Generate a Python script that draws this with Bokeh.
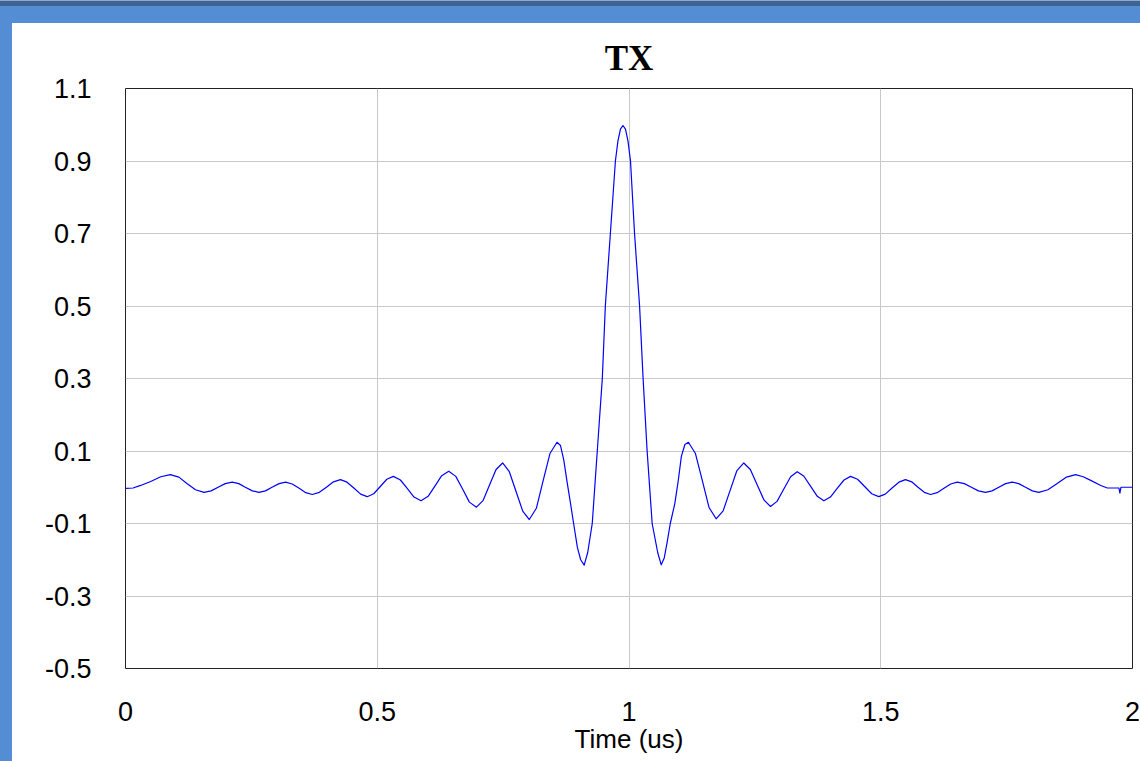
from bokeh.plotting import figure
from bokeh.models import Div, FixedTicker, Range1d, ColumnDataSource
from bokeh.layouts import column, row
from bokeh.embed import file_html
from bokeh.resources import INLINE

# ---- data ----
title_text = "TX"
x_label = "Time (us)"
x_ticks = [0, 0.5, 1, 1.5, 2]
x_tick_labels = ["0", "0.5", "1", "1.5", "2"]
y_ticks = [-0.5, -0.3, -0.1, 0.1, 0.3, 0.5, 0.7, 0.9, 1.1]
y_tick_labels = ["-0.5", "-0.3", "-0.1", "0.1", "0.3", "0.5", "0.7", "0.9", "1.1"]

left_t = [0.000, 0.015, 0.030, 0.050, 0.070, 0.089, 0.106, 0.122, 0.139, 0.156,
          0.170, 0.184, 0.198, 0.212, 0.225, 0.238, 0.252, 0.265, 0.278, 0.291,
          0.305, 0.318, 0.331, 0.345, 0.358, 0.371, 0.385, 0.399, 0.413, 0.427,
          0.440, 0.4535, 0.467, 0.480, 0.493, 0.506, 0.519, 0.532, 0.546, 0.5595,
          0.573, 0.587, 0.601, 0.6145, 0.628, 0.642, 0.656, 0.6695, 0.683, 0.697,
          0.710, 0.723, 0.736, 0.749, 0.762, 0.7755, 0.789, 0.802, 0.816, 0.8295,
          0.843]
left_v = [-0.003, -0.002, 0.005, 0.016, 0.029, 0.035, 0.028, 0.0105, -0.007, -0.014,
          -0.010, 0.000, 0.010, 0.014, 0.010, 0.000, -0.010, -0.014, -0.010, 0.000,
          0.010, 0.014, 0.009, -0.003, -0.015, -0.020, -0.014, 0.000, 0.015, 0.021,
          0.014, -0.002, -0.019, -0.026, -0.018, 0.002, 0.022, 0.030, 0.020, -0.003,
          -0.027, -0.037, -0.025, 0.003, 0.032, 0.044, 0.030, -0.005, -0.041, -0.055,
          -0.037, 0.006, 0.049, 0.067, 0.044, -0.011, -0.066, -0.089, -0.058, 0.018,
          0.093]

main_t = [0.857, 0.864, 0.8705, 0.877, 0.884, 0.890, 0.8975, 0.904, 0.911, 0.918,
          0.927, 0.932, 0.937, 0.942, 0.947, 0.953, 0.958, 0.963, 0.968, 0.973,
          0.978, 0.983, 0.988, 0.993, 0.998, 1.003, 1.007, 1.011, 1.016, 1.021,
          1.028, 1.032, 1.036, 1.041, 1.046, 1.057, 1.064, 1.070, 1.076, 1.082,
          1.091, 1.098, 1.104, 1.111]
main_v = [0.124, 0.115, 0.075, 0.015, -0.046, -0.100, -0.166, -0.200, -0.215, -0.180,
          -0.100, 0.000, 0.100, 0.200, 0.300, 0.500, 0.600, 0.700, 0.800, 0.900,
          0.955, 0.988, 0.998, 0.988, 0.955, 0.900, 0.800, 0.700, 0.600, 0.500,
          0.300, 0.200, 0.100, 0.000, -0.100, -0.180, -0.214, -0.195, -0.150, -0.100,
          -0.045, 0.020, 0.085, 0.118]

right_t = [1.118, 1.132, 1.1455, 1.159, 1.173, 1.187, 1.2005, 1.214, 1.228, 1.241,
           1.2545, 1.268, 1.281, 1.294, 1.3075, 1.321, 1.334, 1.347, 1.3605, 1.374,
           1.387, 1.400, 1.4135, 1.427, 1.440, 1.454, 1.468, 1.482, 1.496, 1.509,
           1.5225, 1.536, 1.549, 1.5615, 1.574, 1.5865, 1.599, 1.612, 1.6255, 1.639,
           1.652, 1.666, 1.680, 1.694, 1.708, 1.721, 1.7345, 1.748, 1.761, 1.774,
           1.7875, 1.801, 1.814, 1.832, 1.8505, 1.869, 1.887, 1.902, 1.917, 1.937,
           1.950, 1.967, 1.973, 1.975, 1.977, 2.000]
right_v = [0.124, 0.093, 0.019, -0.056, -0.087, -0.065, -0.010, 0.045, 0.067, 0.049,
           0.007, -0.035, -0.053, -0.039, -0.005, 0.029, 0.043, 0.031, 0.003, -0.025,
           -0.037, -0.027, -0.003, 0.020, 0.030, 0.022, 0.002, -0.018, -0.026, -0.019,
           -0.002, 0.014, 0.021, 0.015, 0.000, -0.014, -0.020, -0.015, -0.003, 0.009,
           0.014, 0.010, 0.000, -0.010, -0.014, -0.010, 0.000, 0.010, 0.014, 0.010,
           0.000, -0.010, -0.014, -0.007, 0.0105, 0.028, 0.035, 0.029, 0.019, 0.005,
           -0.002, -0.002, -0.002, -0.016, 0.000, 0.000]

time_us = left_t + main_t + right_t
tx_v = left_v + main_v + right_v

# ---- figure ----
BLUE = "#548dd4"
p = figure(width=1128, height=738, output_backend="svg", toolbar_location=None,
           x_range=Range1d(0, 2), y_range=Range1d(-0.5, 1.1),
           min_border_left=113, min_border_right=8, min_border_top=65,
           min_border_bottom=93, background_fill_color="white",
           border_fill_color="white")

src = ColumnDataSource(dict(t=time_us, v=tx_v))
p.line("t", "v", source=src, line_color="#0000ff", line_width=1.2,
       line_join="round")

p.title.text = title_text
p.title.align = "center"
p.title.text_font = "Liberation Serif"
p.title.text_font_size = "35px"
p.title.text_font_style = "bold"
p.title.text_color = "black"
p.title.standoff = 21

p.outline_line_color = "#222222"
p.outline_line_width = 1

for ax in (p.xaxis[0], p.yaxis[0]):
    ax.axis_line_color = None
    ax.major_tick_line_color = None
    ax.minor_tick_line_color = None
    ax.major_tick_out = 0
    ax.major_tick_in = 0
    ax.major_label_text_font = "Liberation Sans"
    ax.major_label_text_font_size = "27px"
    ax.major_label_text_color = "black"

p.yaxis.major_label_standoff = 34
p.xaxis.major_label_standoff = 33

p.xaxis.ticker = FixedTicker(ticks=x_ticks)
p.yaxis.ticker = FixedTicker(ticks=y_ticks)
p.xaxis.major_label_overrides = {t: l for t, l in zip(x_ticks, x_tick_labels)}
p.yaxis.major_label_overrides = {t: l for t, l in zip(y_ticks, y_tick_labels)}

p.xaxis.axis_label = x_label
p.xaxis.axis_label_text_font = "Liberation Sans"
p.xaxis.axis_label_text_font_size = "26px"
p.xaxis.axis_label_text_font_style = "normal"
p.xaxis.axis_label_text_color = "black"
p.xaxis.axis_label_standoff = 0

p.xgrid.ticker = FixedTicker(ticks=[0.5, 1, 1.5])
p.xgrid.grid_line_color = "#c8c8c8"
p.ygrid.grid_line_color = "#c8c8c8"
p.xgrid.grid_line_width = 1
p.ygrid.grid_line_width = 1

top_bar = Div(text="", width=1140, height=23, margin=0,
              styles={"background": "linear-gradient(to bottom, #8fa9cc 0px, #8fa9cc 1px, #3f6494 1px, #3f6494 6px, %s 6px, %s 23px)" % (BLUE, BLUE)})
left_bar = Div(text="", width=12, height=738, margin=0, styles={"background": BLUE})

layout = column(top_bar, row(left_bar, p, spacing=0), spacing=0)

open("out.html", "w").write(file_html(layout, INLINE))
